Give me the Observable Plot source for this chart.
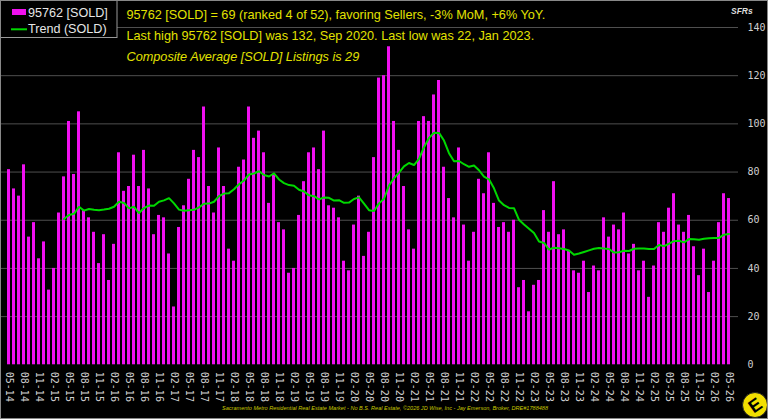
<!DOCTYPE html>
<html><head><meta charset="utf-8">
<script src="https://cdn.jsdelivr.net/npm/d3@7"></script>
<script src="https://cdn.jsdelivr.net/npm/@observablehq/plot@0.6"></script>
<style>
html,body{margin:0;padding:0;background:#000;}
#wrap{position:relative;width:768px;height:419px;overflow:hidden;background:#000;}
#wrap svg{display:block}
#overlay{position:absolute;left:0;top:0;}
</style></head><body><div id="wrap"></div>
<script>
// Monthly SOLD counts, May 2014 .. May 2026
const values = [
  81,73,70,83,53,59,44,51,31,40,63,78,
  101,79,105,64,61,55,42,54,35,50,88,72,
  74,87,74,89,73,54,62,61,46,24,57,66,
  77,89,86,107,74,63,90,74,48,43,82,85,
  107,94,97,88,67,79,59,56,38,40,62,76,
  88,90,81,97,66,65,61,43,39,58,70,45,
  55,86,119,120,132,101,89,74,56,48,101,103,
  101,112,118,82,69,61,90,58,43,55,77,71,
  88,67,57,59,55,60,32,35,22,33,35,64,
  55,76,54,56,47,39,38,43,30,41,39,61,
  53,58,56,63,46,50,39,43,28,41,59,55,
  65,71,58,55,62,49,37,48,30,43,59,71,69
];
const tickLabels = ["05-14","08-14","11-14","02-15","05-15","08-15","11-15","02-16","05-16","08-16","11-16","02-17","05-17","08-17","11-17","02-18","05-18","08-18","11-18","02-19","05-19","08-19","11-19","02-20","05-20","08-20","11-20","02-21","05-21","08-21","11-21","02-22","05-22","08-22","11-22","02-23","05-23","08-23","11-23","02-24","05-24","08-24","11-24","02-25","05-25","08-25","11-25","02-26","05-26"];
const yTicks = [0,20,40,60,80,100,120,140];
const titleLines = [
  "95762 [SOLD] = 69 (ranked 4 of 52), favoring Sellers, -3% MoM, +6% YoY.",
  "Last high 95762 [SOLD] was 132, Sep 2020. Last low was 22, Jan 2023.",
  "Composite Average [SOLD] Listings is 29"
];
const legendLabels = ["95762 [SOLD]", "Trend (SOLD)"];
const footer = "Sacramento Metro Residential Real Estate Market - No B.S. Real Estate, \u00A92026 JD Wise, Inc - Jay Emerson, Broker, DRE#1788488";

const months = d3.utcMonth.range(new Date(Date.UTC(2014,4,1)), new Date(Date.UTC(2026,5,1))).map(d3.utcFormat("%m-%y"));
const data = months.map((m,i)=>({month:m, value:values[i]}));

const chart = Plot.plot({
  width:768, height:419,
  marginLeft:0, marginRight:30, marginTop:27, marginBottom:54.7,
  style:{background:"#000", color:"#cfcfcf"},
  x:{type:"band", domain:months, paddingInner:0.35, paddingOuter:0.175, axis:null},
  y:{domain:[0,140], axis:null},
  marks:[
    Plot.gridY(yTicks.slice(1), {stroke:"#4f4f4f", strokeOpacity:1}),
    Plot.barY(data, {x:"month", y:"value", fill:"#f010f0"}),
    Plot.lineY(data, Plot.windowY({k:12, anchor:"end", strict:true}, {x:"month", y:"value", stroke:"#00d800", strokeWidth:2})),
    Plot.axisY(yTicks, {anchor:"right", label:null, tickSize:0, tickPadding:9, fontFamily:"DejaVu Sans Mono", fontSize:10}),
    Plot.axisX(tickLabels, {anchor:"bottom", label:null, tickSize:0, tickPadding:7, tickRotate:90, fontFamily:"DejaVu Sans Mono", fontSize:10})
  ]
});
const wrap = document.getElementById("wrap");
wrap.appendChild(chart);

// annotation overlay
const svg = d3.select(wrap).append("svg").attr("id","overlay").attr("width",768).attr("height",419)
  .style("font-family","'Liberation Sans', Arial, sans-serif");
// legend
svg.append("rect").attr("x",0.5).attr("y",0.5).attr("width",116.5).attr("height",37).attr("fill","#000").attr("stroke","#9a9a9a");
svg.append("rect").attr("x",12).attr("y",9).attr("width",14).attr("height",6).attr("fill","#f010f0");
svg.append("line").attr("x1",11).attr("x2",27).attr("y1",29.3).attr("y2",29.3).attr("stroke","#00d800").attr("stroke-width",2);
svg.append("text").attr("x",28).attr("y",16.7).attr("fill","#e6e6e6").attr("font-size",12.6).text(legendLabels[0]);
svg.append("text").attr("x",28).attr("y",32.8).attr("fill","#e6e6e6").attr("font-size",12.6).text(legendLabels[1]);
// titles
const ty = [18.5, 40, 60.7];
titleLines.forEach((t,i)=>{
  svg.append("text").attr("x",126.5).attr("y",ty[i]).attr("fill","#e2e200").attr("font-size",12.7)
    .attr("font-style", i===2 ? "italic" : "normal").text(t);
});
// units label
svg.append("text").attr("x",731).attr("y",14).attr("fill","#dddddd").attr("font-size",8.5)
  .attr("font-weight","bold").attr("font-style","italic").text("SFRs");
// footer
svg.append("text").attr("x",222).attr("y",409.5).attr("fill","#c8c800").attr("font-size",6.2)
  .attr("font-style","italic").attr("textLength",326).attr("lengthAdjust","spacingAndGlyphs").text(footer);
// logo
const g = svg.append("g").attr("transform","translate(755,405)");
g.append("circle").attr("r",12.5).attr("fill","#f2df00").attr("stroke","#222");
g.append("text").attr("transform","rotate(-35)").attr("text-anchor","middle").attr("dy","0.36em")
  .attr("font-size",18).attr("font-weight","bold").attr("fill","#000").text("E");
// outer border
svg.append("rect").attr("x",0.5).attr("y",0.5).attr("width",767).attr("height",418).attr("fill","none").attr("stroke","#888");
</script></body></html>
